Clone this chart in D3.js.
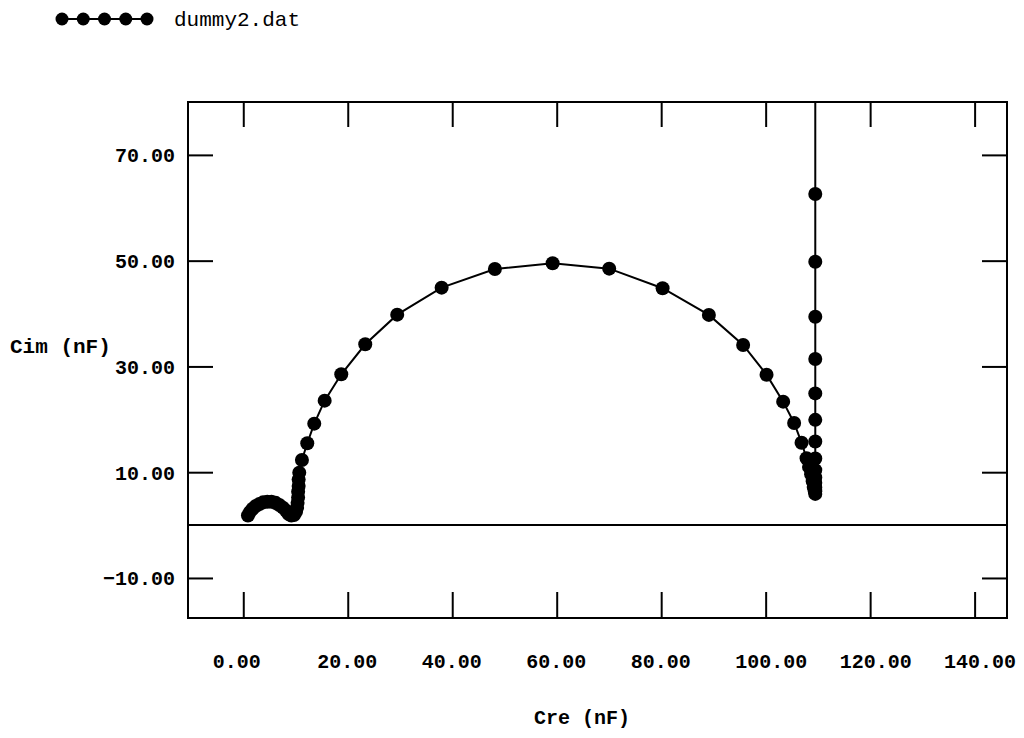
<!DOCTYPE html>
<html>
<head>
<meta charset="utf-8">
<script src="https://cdn.jsdelivr.net/npm/d3@7.9.0/dist/d3.min.js"></script>
<style>
  body { margin: 0; background: #fff; }
  svg text { font-family: "Liberation Mono", "DejaVu Sans Mono", monospace; fill: #000; }
</style>
</head>
<body>
<div id="chart"></div>
<script>
const creValues = [
  0.9, 1.3, 1.8, 2.4, 3.1, 3.8, 4.6, 5.4, 6.2, 6.9, 7.6, 8.2, 8.7, 9.2, 9.7,
  10.1, 10.3, 10.4, 10.5, 10.5, 10.6, 10.6,
  10.72, 11.23, 12.25, 13.59, 15.58, 18.76, 23.35, 29.47, 37.97, 48.17, 59.22,
  70.05, 80.27, 89.13, 95.69, 100.17, 103.35, 105.45, 106.87, 107.83,
  108.3, 108.7, 109.0, 109.2, 109.4, 109.5,
  109.5, 109.5, 109.5, 109.5, 109.5, 109.5, 109.5, 109.5, 109.5, 109.5, 109.5, 109.5, 109.5, 109.5
];
const cimValues = [
  1.8, 2.5, 3.1, 3.6, 4.0, 4.3, 4.4, 4.4, 4.2, 3.8, 3.3, 2.7, 2.1, 1.8, 1.9,
  2.5, 3.3, 4.2, 5.2, 6.3, 7.4, 8.6,
  9.91, 12.31, 15.47, 19.18, 23.53, 28.52, 34.19, 39.79, 44.90, 48.43, 49.51,
  48.49, 44.79, 39.74, 34.06, 28.44, 23.34, 19.31, 15.58, 12.63,
  11.0, 9.6, 8.3, 7.2, 6.4, 5.9,
  6.4, 7.1, 8.0, 9.0, 10.4, 12.6, 15.8, 19.9, 24.9, 31.4, 39.4, 49.8, 62.6, 84.0
];

const xTicks = [0, 20, 40, 60, 80, 100, 120, 140];
const yTicks = [-10, 10, 30, 50, 70];
const xDomain = [-10.58, 146.2];
const yDomain = [-17.57, 80];
const seriesName = "dummy2.dat";
const xTitle = "Cre (nF)";
const yTitle = "Cim (nF)";

const points = creValues.map((c, i) => ({ x: c, y: cimValues[i] }));

// Canvas
const W = 1024, H = 738;
const frame = { left: 188, top: 102, right: 1007, bottom: 618 };

const svg = d3.select("#chart").append("svg")
  .attr("width", W)
  .attr("height", H);

const x = d3.scaleLinear().domain(xDomain).range([frame.left, frame.right]);
const y = d3.scaleLinear().domain(yDomain).range([frame.bottom, frame.top]);

const fmt = d3.format(".2f");

// Axes: ticks point inward, labels only on bottom and left
const axisStyle = g => {
  g.select(".domain").remove();
  g.selectAll(".tick line").attr("stroke", "#000").attr("stroke-width", 2);
};

svg.append("g")
  .attr("transform", `translate(0,${frame.bottom})`)
  .call(d3.axisBottom(x).tickValues(xTicks).tickSizeInner(-26).tickSizeOuter(0).tickPadding(36).tickFormat(fmt))
  .call(axisStyle)
  .call(g => g.selectAll(".tick text")
    .attr("text-anchor", "start")
    .attr("x", -31)
    .style("font-size", "20px")
    .style("font-weight", "bold"));

svg.append("g")
  .attr("transform", `translate(0,${frame.top})`)
  .call(d3.axisTop(x).tickValues(xTicks).tickSizeInner(-25).tickSizeOuter(0).tickFormat(""))
  .call(axisStyle);

svg.append("g")
  .attr("transform", `translate(${frame.left},0)`)
  .call(d3.axisLeft(y).tickValues(yTicks).tickSizeInner(-25).tickSizeOuter(0).tickPadding(13).tickFormat(fmt))
  .call(axisStyle)
  .call(g => g.selectAll(".tick text")
    .attr("dy", "0.35em")
    .style("font-size", "20px")
    .style("font-weight", "bold"));

svg.append("g")
  .attr("transform", `translate(${frame.right},0)`)
  .call(d3.axisRight(y).tickValues(yTicks).tickSizeInner(-25).tickSizeOuter(0).tickFormat(""))
  .call(axisStyle);

// Frame
svg.append("rect")
  .attr("x", frame.left)
  .attr("y", frame.top)
  .attr("width", frame.right - frame.left)
  .attr("height", frame.bottom - frame.top)
  .attr("fill", "none")
  .attr("stroke", "#000")
  .attr("stroke-width", 2);

// Zero line
svg.append("line")
  .attr("x1", x(xDomain[0]))
  .attr("x2", x(xDomain[1]))
  .attr("y1", y(0))
  .attr("y2", y(0))
  .attr("stroke", "#000")
  .attr("stroke-width", 2);

// Data, clipped to the frame
svg.append("clipPath").attr("id", "plot-clip")
  .append("rect")
  .attr("x", frame.left)
  .attr("y", frame.top)
  .attr("width", frame.right - frame.left)
  .attr("height", frame.bottom - frame.top);

const plot = svg.append("g").attr("clip-path", "url(#plot-clip)");

const line = d3.line().x(d => x(d.x)).y(d => y(d.y));

plot.append("path")
  .datum(points)
  .attr("d", line)
  .attr("fill", "none")
  .attr("stroke", "#000")
  .attr("stroke-width", 2);

plot.selectAll("circle")
  .data(points)
  .join("circle")
  .attr("cx", d => x(d.x))
  .attr("cy", d => y(d.y))
  .attr("r", 7)
  .attr("fill", "#000");

// Axis titles
svg.append("text")
  .attr("x", 10)
  .attr("y", 353)
  .style("font-size", "21px")
  .style("font-weight", "bold")
  .text(yTitle);

svg.append("text")
  .attr("x", 582)
  .attr("y", 724)
  .attr("text-anchor", "middle")
  .style("font-size", "20px")
  .style("font-weight", "bold")
  .text(xTitle);

// Legend
const legendX = d3.scaleLinear().domain([0, 4]).range([62, 147]);
const legend = svg.append("g");
legend.append("line")
  .attr("x1", legendX(0)).attr("x2", legendX(4))
  .attr("y1", 19).attr("y2", 19)
  .attr("stroke", "#000").attr("stroke-width", 2);
legend.selectAll("circle")
  .data(d3.range(5))
  .join("circle")
  .attr("cx", d => legendX(d))
  .attr("cy", 19)
  .attr("r", 6.5)
  .attr("fill", "#000");
legend.append("text")
  .attr("x", 174)
  .attr("y", 26)
  .style("font-size", "21px")
  .text(seriesName);
</script>
</body>
</html>
